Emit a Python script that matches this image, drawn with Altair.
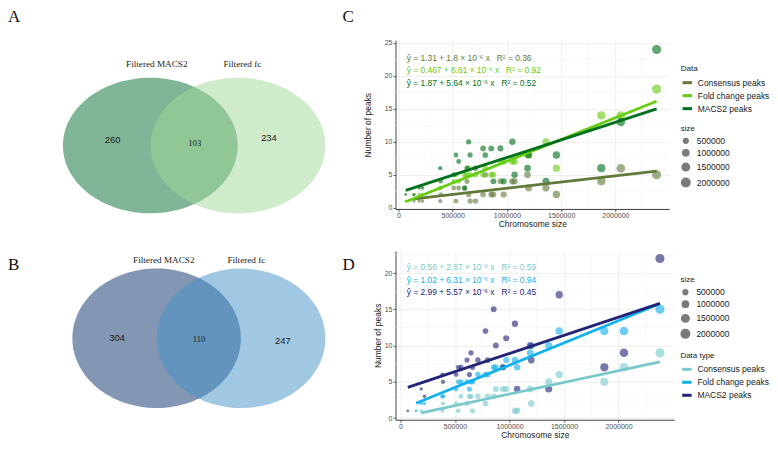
import altair as alt
import pandas as pd

# ---------------- data ----------------
venn_sets = ["Filtered MACS2", "Filtered fc"]
venn_a_counts = [260, 103, 234]   # MACS2 only, shared, fc only
venn_b_counts = [304, 110, 247]

chrom_size = [67000, 143000, 190000, 220000, 385000, 390000, 510000, 530000, 555000,
              610000, 632000, 647000, 660000, 710000, 780000, 800000, 855000, 875000,
              940000, 970000, 1050000, 1070000, 1190000, 1200000, 1360000, 1456000,
              1870000, 2050000, 2380000]

c_series = ["Consensus peaks", "Fold change peaks", "MACS2 peaks"]
c_consensus = [None, 1, 1, 1, 1, 2, 3, 1, 3, 3, 4, 2, 1, 1, 2, 5, 2, 2, 4, 2, 4, 4, 5, 3, 3, 2, 4, 6, 5]
c_fold = [1, 2, 2, 2, 3, 3, 4, 5, 4, 5, 5, 6, 5, 5, 5, 6, 5, 5, 7, 7, 7, 7, 8, 8, 10, 6, 14, 14, 18]
c_macs2 = [2, 2, 3, 3, 6, 4, 5, 8, 7, 3, 6, 10, 8, 6, 9, 8, 9, 4, 9, 4, 10, 5, 6, 8, 4, 8, 6, 13, 24]
c_equations = ["ŷ = 1.31 + 1.8 × 10⁻⁶ x\u00a0\u00a0\u00a0R² = 0.36",
               "ŷ = 0.467 + 6.61 × 10⁻⁶ x\u00a0\u00a0\u00a0R² = 0.92",
               "ŷ = 1.87 + 5.64 × 10⁻⁶ x\u00a0\u00a0\u00a0R² = 0.52"]

d_series = ["Consensus peaks", "Fold change peaks", "MACS2 peaks"]
d_consensus = [None, None, 1, None, 1, 2, 2, 1, 3, 2, 3, 3, 1, 3, 2, 3, 3, 4, 4, 4, 1, 1, 4, 2, 5, 6, 5, 7, 9]
d_fold = [None, 1, 2, 2, 3, 3, 4, 5, 5, 5, 4, 5, 5, 6, 6, 6, 7, 7, 7, 8, 8, 7, 9, 10, 10, 12, 12, 12, 15]
d_macs2 = [1, None, 4, 3, 6, 5, 6, 7, 7, 8, 6, 9, 7, 8, 12, 8, 15, 10, 7, 11, 13, 4, 10, 8, 4, 17, 7, 9, 22]
d_equations = ["ŷ = 0.56 + 2.87 × 10⁻⁶ x\u00a0\u00a0\u00a0R² = 0.59",
               "ŷ = 1.02 + 6.31 × 10⁻⁶ x\u00a0\u00a0\u00a0R² = 0.94",
               "ŷ = 2.99 + 5.57 × 10⁻⁶ x\u00a0\u00a0\u00a0R² = 0.45"]

x_ticks = [0, 500000, 1000000, 1500000, 2000000]
x_minor = [250000, 750000, 1250000, 1750000, 2250000]
c_y_ticks = [0, 5, 10, 15, 20, 25]
d_y_ticks = [0, 5, 10, 15, 20]
y_minor = [2.5, 7.5, 12.5, 17.5, 22.5]
size_legend_values = [500000, 1000000, 1500000, 2000000]

# ---------------- styles / layout ----------------
SANS = "Liberation Sans"
SERIF = "Liberation Serif"
C_COLORS = ["#617a3a", "#66cc11", "#00701c"]
D_COLORS = ["#79c9cc", "#12b0ec", "#242477"]
VENN_W = 340


def ellipse_path(r):
    k = 0.5523
    return (f"M 1 0 C 1 {k*r:.4f} {k:.4f} {r:.4f} 0 {r:.4f} "
            f"C {-k:.4f} {r:.4f} -1 {k*r:.4f} -1 0 "
            f"C -1 {-k*r:.4f} {-k:.4f} {-r:.4f} 0 {-r:.4f} "
            f"C {k:.4f} {-r:.4f} 1 {-k*r:.4f} 1 0 Z")


def txt(label, x, y, font, size, align="center", baseline="middle", color="#1a1a1a"):
    return alt.Chart(pd.DataFrame({"t": [label]})).mark_text(
        font=font, fontSize=size, align=align, baseline=baseline, color=color
    ).encode(x=alt.value(x), y=alt.value(y), text="t:N")


def venn_panel(counts, letter, lay, h, left_fill, right_fill):
    ew, eh = lay["ell"]
    path = ellipse_path(eh / ew)
    left = alt.Chart(pd.DataFrame({"s": [venn_sets[0]]})).mark_point(
        shape=path, size=ew * ew, filled=True, color=left_fill, opacity=1, strokeWidth=0
    ).encode(x=alt.value(lay["lc"][0]), y=alt.value(lay["lc"][1]))
    right = alt.Chart(pd.DataFrame({"s": [venn_sets[1]]})).mark_point(
        shape=path, size=ew * ew, filled=True, color=right_fill, opacity=0.5, strokeWidth=0
    ).encode(x=alt.value(lay["rc"][0]), y=alt.value(lay["rc"][1]))
    layers = [left, right,
              txt(venn_sets[0], lay["l1"][0], lay["l1"][1], SERIF, 9.2),
              txt(venn_sets[1], lay["l2"][0], lay["l2"][1], SERIF, 9.2),
              txt(str(counts[0]), lay["n1"][0], lay["n1"][1], SANS, 9.4),
              txt(str(counts[1]), lay["n2"][0], lay["n2"][1], SERIF, 8.6),
              txt(str(counts[2]), lay["n3"][0], lay["n3"][1], SANS, 9.4),
              txt(letter, lay["letter"][0], lay["letter"][1], SERIF, 17, align="left", baseline="top",
                  color="#111111")]
    return alt.layer(*layers).properties(width=VENN_W, height=h)


def scatter_panel(vals, names, colors, eqs, legend_title, w, h, xdom, ydom, yticks,
                  letter_pos, ytitle_pad, color_leg, size_leg, eq_y):
    rows = []
    for name, series in zip(names, vals):
        for s, v in zip(chrom_size, series):
            if v is not None:
                rows.append({"size": s, "peaks": v, "series": name})
    df = pd.DataFrame(rows)

    xs = alt.Scale(domain=xdom, nice=False, zero=False)
    ys = alt.Scale(domain=ydom, nice=False, zero=False)
    cs = alt.Scale(domain=names, range=colors)
    # same mapping, listed in reverse so this legend-less scale is not merged with the line legend
    fs = alt.Scale(domain=names[::-1], range=colors[::-1])

    x_axis = alt.Axis(values=x_ticks, format="d", title="Chromosome size", grid=True,
                      labelPadding=0, titlePadding=1)
    y_axis = alt.Axis(values=yticks, format="d", title="Number of peaks", grid=True,
                      labelPadding=1, titlePadding=ytitle_pad)

    minor_x = alt.Chart(pd.DataFrame({"size": x_minor})).mark_rule(
        color="#f3f3f3", strokeWidth=0.6).encode(x=alt.X("size:Q", scale=xs, axis=x_axis))
    minor_y = alt.Chart(pd.DataFrame({"peaks": y_minor})).mark_rule(
        color="#f3f3f3", strokeWidth=0.6).encode(y=alt.Y("peaks:Q", scale=ys, axis=y_axis))

    points = alt.Chart(df).mark_circle(opacity=0.62).encode(
        x=alt.X("size:Q", scale=xs, axis=x_axis),
        y=alt.Y("peaks:Q", scale=ys, axis=y_axis),
        fill=alt.Fill("series:N", scale=fs, legend=None),
        size=alt.Size("size:Q", scale=alt.Scale(domain=[0, 2400000], range=[6, 85]),
                      legend=alt.Legend(title="size", values=size_legend_values, format="d",
                                        orient="none", legendX=size_leg[0], legendY=size_leg[1],
                                        symbolFillColor="#7a7a7a", symbolStrokeColor="#7a7a7a",
                                        symbolOpacity=1, rowPadding=0, titlePadding=4,
                                        labelOffset=6)),
    )
    lines = alt.Chart(df).transform_regression(
        "size", "peaks", groupby=["series"]
    ).mark_line(strokeWidth=2.8).encode(
        x=alt.X("size:Q", scale=xs, axis=x_axis),
        y=alt.Y("peaks:Q", scale=ys, axis=y_axis),
        color=alt.Color("series:N", scale=cs,
                        legend=alt.Legend(title=legend_title, orient="none",
                                          legendX=color_leg[0], legendY=color_leg[1],
                                          symbolType="stroke", symbolStrokeWidth=3,
                                          symbolSize=90, rowPadding=0, titlePadding=3,
                                          labelOffset=4)),
    )
    eq_layers = [txt(e, 11.3, y, SANS, 8.4, align="left", color=c)
                 for e, y, c in zip(eqs, eq_y, colors)]
    letter_layer = txt(letter_pos[2], letter_pos[0], letter_pos[1], SERIF, 17,
                       align="left", baseline="top", color="#111111")
    return alt.layer(minor_x, minor_y, points, lines, *eq_layers, letter_layer).properties(
        width=w, height=h)


venn_a = venn_panel(venn_a_counts, "A",
                    {"ell": (175, 135.7), "lc": (142.5, 105.5), "rc": (230.3, 105.5),
                     "l1": (149, 24), "l2": (234.7, 24),
                     "n1": (104.7, 100.3), "n2": (187, 102.7), "n3": (261.3, 97.7),
                     "letter": (0, -31)},
                    169, "#80b697", "#a1d797")
venn_b = venn_panel(venn_b_counts, "B",
                    {"ell": (168.7, 139.7), "lc": (148.8, 87.5), "rc": (233.5, 87.5),
                     "l1": (156, 9.3), "l2": (238.7, 9.3),
                     "n1": (109.3, 86.7), "n2": (191.3, 87.7), "n3": (275.3, 90),
                     "letter": (0, 6)},
                    169, "#8396b4", "#4191c5")

panel_c = scatter_panel([c_consensus, c_fold, c_macs2], c_series, C_COLORS, c_equations, "Data",
                        274, 169, [-27600, 2495400], [-0.2, 25.41], c_y_ticks,
                        (-53, -31, "C"), 12, (285.7, 25), (285.7, 84.5), [17.7, 30.3, 42.7])
panel_d = scatter_panel([d_consensus, d_fold, d_macs2], d_series, D_COLORS, d_equations, "Data type",
                        279, 169, [-45800, 2510300], [-0.23, 23.04], d_y_ticks,
                        (-53, 6, "D"), 2, (285.3, 101), (285.3, 25), [16.2, 29.1, 41.5])

chart = alt.concat(venn_a, panel_c, venn_b, panel_d, columns=2,
                   spacing={"row": 42, "column": 48}, bounds="flush", align="each").resolve_scale(
    color="independent", fill="independent", size="independent", x="independent", y="independent"
).resolve_legend(
    color="independent", fill="independent", size="independent"
).properties(
    padding=0
).configure_view(stroke=None).configure_axis(
    labelFont=SANS, labelFontSize=7, labelColor="#4d4d4d",
    titleFont=SANS, titleFontSize=8.5, titleFontWeight="normal", titleColor="#1a1a1a",
    domainColor="#333333", domainWidth=0.9, tickColor="#333333", tickSize=2.5, tickWidth=0.8,
    gridColor="#e8e8e8", gridWidth=0.7
).configure_legend(
    titleFont=SANS, titleFontSize=8, titleFontWeight="normal", titleColor="#1a1a1a",
    labelFont=SANS, labelFontSize=8.5, labelColor="#1a1a1a"
)

chart.save("out.html", embed_options={"renderer": "svg", "actions": False})
